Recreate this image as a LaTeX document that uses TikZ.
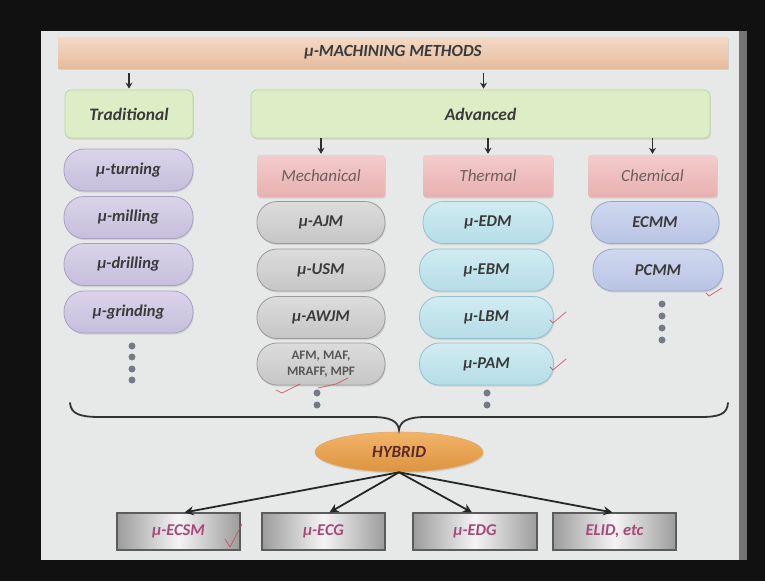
\documentclass[tikz,border=0pt]{standalone}
\usepackage{fontspec}
\setmainfont{Carlito}
\usetikzlibrary{shapes.geometric,shadows,arrows.meta}
\definecolor{frame}{HTML}{111111}
\definecolor{slide}{HTML}{E7E9E9}
\definecolor{txt}{HTML}{3A3A3A}
\definecolor{peachT}{HTML}{F4DAC6}
\definecolor{peachB}{HTML}{E6BC9E}
\definecolor{greenF}{HTML}{DDEEC6}
\definecolor{greenD}{HTML}{BCD4A0}
\definecolor{pinkT}{HTML}{F4CCCC}
\definecolor{pinkB}{HTML}{E8B0B0}
\definecolor{cattxt}{HTML}{6E5E5E}
\definecolor{lavT}{HTML}{DAD4EA}
\definecolor{lavB}{HTML}{C6BEDC}
\definecolor{lavD}{HTML}{A8A0C0}
\definecolor{greyT}{HTML}{DCDCDC}
\definecolor{greyB}{HTML}{C6C6C6}
\definecolor{greyD}{HTML}{9A9A9A}
\definecolor{cyanT}{HTML}{D0ECF2}
\definecolor{cyanB}{HTML}{B6DDE6}
\definecolor{cyanD}{HTML}{92C2CE}
\definecolor{blueT}{HTML}{D0D8F0}
\definecolor{blueB}{HTML}{B8C4E4}
\definecolor{blueD}{HTML}{98A6CC}
\definecolor{dotc}{HTML}{737B86}
\definecolor{orangeT}{HTML}{F2B468}
\definecolor{orangeB}{HTML}{DC9440}
\definecolor{hybtxt}{HTML}{5A2A2A}
\definecolor{boxside}{HTML}{9C9C9C}
\definecolor{boxmid}{HTML}{F4F4F4}
\definecolor{boxline}{HTML}{5C5C5C}
\definecolor{magtxt}{HTML}{A8487A}
\definecolor{pen}{HTML}{C84858}
\tikzset{
  shade1/.style={drop shadow={shadow xshift=0.8pt, shadow yshift=-1.6pt, opacity=0.22}},
  titlebox/.style={rectangle, minimum width=670pt, minimum height=31pt, top color=peachT, bottom color=peachB, shade1, font=\fontsize{17}{19}\selectfont\bfseries\itshape, text=txt},
  mainbox/.style={rectangle, rounded corners=6pt, draw=greenD, line width=0.8pt, fill=greenF, minimum height=48pt, shade1, font=\fontsize{17.5}{19}\selectfont\bfseries\itshape, text=txt},
  catbox/.style={rectangle, rounded corners=3pt, top color=pinkT, bottom color=pinkB, minimum height=42pt, shade1, font=\fontsize{17}{19}\selectfont\itshape, text=cattxt},
  pillbase/.style={rectangle, rounded corners=20pt, minimum height=42pt, line width=0.8pt, shade1, font=\fontsize{16.5}{18}\selectfont\bfseries\itshape, text=txt},
  tradpill/.style={pillbase, draw=lavD, top color=lavT, bottom color=lavB, minimum width=129pt},
  mechpill/.style={pillbase, draw=greyD, top color=greyT, bottom color=greyB, minimum width=128pt},
  thermpill/.style={pillbase, draw=cyanD, top color=cyanT, bottom color=cyanB, minimum width=134pt},
  chempill/.style={pillbase, draw=blueD, top color=blueT, bottom color=blueB, minimum width=128pt},
  hybnode/.style={ellipse, minimum width=168pt, minimum height=40pt, top color=orangeT, bottom color=orangeB, draw=orangeB!80!white, line width=0.6pt, shade1, font=\fontsize{17}{19}\selectfont\bfseries\itshape, text=hybtxt},
  endbox/.style={rectangle, draw=boxline, line width=1.1pt, left color=boxside, right color=boxside, middle color=boxmid, minimum height=37pt, minimum width=123pt, font=\fontsize{16.5}{19}\selectfont\bfseries\itshape, text=magtxt},
  arr/.style={-{Stealth[length=6pt,width=7pt]}, line width=1.6pt, draw=txt!80!black},
  harr/.style={-{Stealth[length=9pt,width=9pt]}, line width=1.8pt, draw=black!85},
  dotmark/.style={fill=dotc},
  penmark/.style={draw=pen, line width=0.8pt, opacity=0.8, line cap=round, line join=round}
}
\begin{document}
\begin{tikzpicture}[x=1pt,y=-1pt]
\useasboundingbox (0,0) rectangle (765,581);
\fill[frame] (0,0) rectangle (765,581);
\fill[black!55] (739,31) rectangle (747,560);
\fill[slide] (41,31) rectangle (739,560);

\node[titlebox] (title) at (393,52.5) {μ-MACHINING METHODS};
\node[mainbox, minimum width=128pt] (trad) at (129,114) {Traditional};
\node[mainbox, minimum width=459pt] (adv) at (480.5,114) {Advanced};

\node[catbox, minimum width=128pt] (mech) at (321,176) {Mechanical};
\node[catbox, minimum width=130pt] (therm) at (488,176) {Thermal};
\node[catbox, minimum width=129pt] (chem) at (652.5,176) {Chemical};

\node[tradpill] (t1) at (128.5,170) {μ-turning};
\node[tradpill] (t2) at (128.5,217.5) {μ-milling};
\node[tradpill] (t3) at (128.5,264.5) {μ-drilling};
\node[tradpill] (t4) at (128.5,312) {μ-grinding};

\node[mechpill] (m1) at (321,222.5) {μ-AJM};
\node[mechpill] (m2) at (321,270) {μ-USM};
\node[mechpill] (m3) at (321,317.5) {μ-AWJM};
\node[mechpill, align=center, font=\fontsize{13}{15.5}\selectfont\bfseries, text=txt!85] (m4) at (321,364) {AFM, MAF,\\MRAFF, MPF};

\node[thermpill, minimum width=130pt] (h1) at (488,222.5) {μ-EDM};
\node[thermpill] (h2) at (486.5,270) {μ-EBM};
\node[thermpill] (h3) at (486.5,317.5) {μ-LBM};
\node[thermpill] (h4) at (486.5,364) {μ-PAM};

\node[chempill] (c1) at (655,222.5) {ECMM};
\node[chempill, minimum width=130pt] (c2) at (658,270) {PCMM};

\node[hybnode] (hyb) at (399,452) {HYBRID};

\node[endbox] (b1) at (178.5,531.5) {μ-ECSM};
\node[endbox] (b2) at (323.5,531.5) {μ-ECG};
\node[endbox, minimum width=124pt] (b3) at (475,531.5) {μ-EDG};
\node[endbox] (b4) at (614.5,531.5) {ELID, etc};

% arrows
\draw[arr, shorten <=5pt, shorten >=1pt] (title.south -| trad.north) -- (trad.north);
\draw[arr, shorten <=5pt, shorten >=1pt] ([xshift=3pt]title.south -| adv.north) -- ([xshift=3pt]adv.north);
\draw[arr, shorten >=1pt] (adv.south -| mech.north) -- (mech.north);
\draw[arr, shorten >=1pt] (adv.south -| therm.north) -- (therm.north);
\draw[arr, shorten >=1pt] (adv.south -| chem.north) -- (chem.north);

\draw[harr] (hyb.south) -- ([xshift=6pt]b1.north);
\draw[harr] (hyb.south) -- ([xshift=6pt]b2.north);
\draw[harr] (hyb.south) -- ([xshift=-3pt]b3.north);
\draw[harr] (hyb.south) -- ([xshift=-2pt]b4.north);

% brace
\draw[line width=1.8pt, draw=black!80, line cap=round]
  (70,403) .. controls (71,414) and (80,417) .. (100,417) -- (372,417)
  .. controls (390,417) and (398,421) .. (399,430)
  .. controls (400,421) and (408,417) .. (426,417) -- (700,417)
  .. controls (720,417) and (727,414) .. (728,403);

% continuation dots
\foreach \y in {346,357,369,380} \fill[dotmark] (132,\y) circle (3.5pt);
\foreach \y in {393,405} \fill[dotmark] (317,\y) circle (3.5pt);
\foreach \y in {393,405} \fill[dotmark] (487,\y) circle (3.5pt);
\foreach \y in {304,316,328,340} \fill[dotmark] (662,\y) circle (3.5pt);

% pen ticks
\draw[penmark] (550,320) -- (553,323) -- (566,312);
\draw[penmark] (550,367) -- (553,370) -- (566,359);
\draw[penmark] (706,293) -- (709,296) -- (722,288);
\draw[penmark] (276,390) -- (282,393) -- (300,384) (318,388) -- (336,384) -- (348,378);
\draw[penmark] (225,539) -- (230,547) -- (242,524);
\end{tikzpicture}
\end{document}
